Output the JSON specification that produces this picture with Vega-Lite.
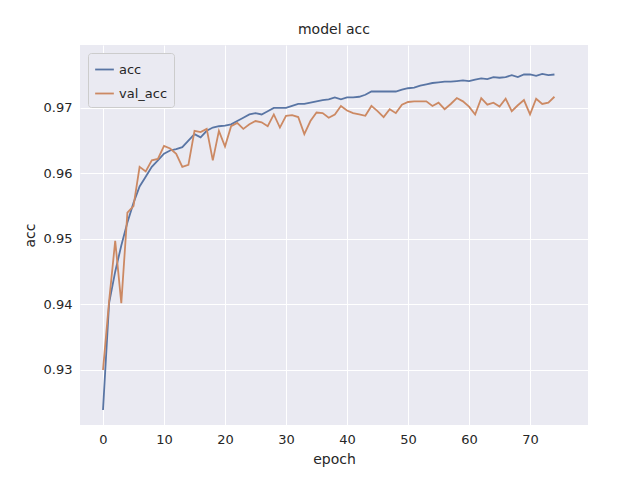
{
  "$schema": "https://vega.github.io/schema/vega-lite/v6.json",
  "width": 508,
  "height": 380,
  "autosize": {"type": "none"},
  "padding": {"left": 80, "top": 45, "right": 52, "bottom": 55},
  "background": "white",
  "title": {"text": "model acc", "font": "DejaVu Sans", "fontSize": 14, "fontWeight": "normal", "color": "#262626", "offset": 8},
  "data": {"values": [
    {"epoch":0,"acc":0.9239,"val_acc":0.930},{"epoch":1,"acc":0.9402,"val_acc":0.9405},{"epoch":2,"acc":0.945,"val_acc":0.9497},
    {"epoch":3,"acc":0.949,"val_acc":0.9402},{"epoch":4,"acc":0.9525,"val_acc":0.954},{"epoch":5,"acc":0.9555,"val_acc":0.955},
    {"epoch":6,"acc":0.958,"val_acc":0.961},{"epoch":7,"acc":0.9595,"val_acc":0.9603},{"epoch":8,"acc":0.961,"val_acc":0.962},
    {"epoch":9,"acc":0.962,"val_acc":0.9622},{"epoch":10,"acc":0.963,"val_acc":0.9642},{"epoch":11,"acc":0.9635,"val_acc":0.9638},
    {"epoch":12,"acc":0.9637,"val_acc":0.963},{"epoch":13,"acc":0.964,"val_acc":0.961},{"epoch":14,"acc":0.965,"val_acc":0.9613},
    {"epoch":15,"acc":0.966,"val_acc":0.9665},{"epoch":16,"acc":0.9655,"val_acc":0.9663},{"epoch":17,"acc":0.9665,"val_acc":0.9668},
    {"epoch":18,"acc":0.967,"val_acc":0.962},{"epoch":19,"acc":0.9672,"val_acc":0.9665},{"epoch":20,"acc":0.9673,"val_acc":0.9641},
    {"epoch":21,"acc":0.9675,"val_acc":0.9672},{"epoch":22,"acc":0.968,"val_acc":0.9677},{"epoch":23,"acc":0.9685,"val_acc":0.9668},
    {"epoch":24,"acc":0.969,"val_acc":0.9675},{"epoch":25,"acc":0.9692,"val_acc":0.968},{"epoch":26,"acc":0.969,"val_acc":0.9678},
    {"epoch":27,"acc":0.9695,"val_acc":0.9672},{"epoch":28,"acc":0.970,"val_acc":0.969},{"epoch":29,"acc":0.970,"val_acc":0.967},
    {"epoch":30,"acc":0.970,"val_acc":0.9688},{"epoch":31,"acc":0.9703,"val_acc":0.9689},{"epoch":32,"acc":0.9706,"val_acc":0.9686},
    {"epoch":33,"acc":0.9706,"val_acc":0.966},{"epoch":34,"acc":0.9708,"val_acc":0.968},{"epoch":35,"acc":0.971,"val_acc":0.9693},
    {"epoch":36,"acc":0.9712,"val_acc":0.9692},{"epoch":37,"acc":0.9713,"val_acc":0.9685},{"epoch":38,"acc":0.9716,"val_acc":0.969},
    {"epoch":39,"acc":0.9713,"val_acc":0.9703},{"epoch":40,"acc":0.9716,"val_acc":0.9696},{"epoch":41,"acc":0.9716,"val_acc":0.9692},
    {"epoch":42,"acc":0.9717,"val_acc":0.969},{"epoch":43,"acc":0.972,"val_acc":0.9688},{"epoch":44,"acc":0.9725,"val_acc":0.9703},
    {"epoch":45,"acc":0.9725,"val_acc":0.9695},{"epoch":46,"acc":0.9725,"val_acc":0.9686},{"epoch":47,"acc":0.9725,"val_acc":0.9698},
    {"epoch":48,"acc":0.9725,"val_acc":0.9692},{"epoch":49,"acc":0.9728,"val_acc":0.9705},{"epoch":50,"acc":0.973,"val_acc":0.9709},
    {"epoch":51,"acc":0.9731,"val_acc":0.971},{"epoch":52,"acc":0.9734,"val_acc":0.971},{"epoch":53,"acc":0.9736,"val_acc":0.971},
    {"epoch":54,"acc":0.9738,"val_acc":0.9703},{"epoch":55,"acc":0.9739,"val_acc":0.9708},{"epoch":56,"acc":0.974,"val_acc":0.9698},
    {"epoch":57,"acc":0.974,"val_acc":0.9706},{"epoch":58,"acc":0.9741,"val_acc":0.9715},{"epoch":59,"acc":0.9742,"val_acc":0.971},
    {"epoch":60,"acc":0.9741,"val_acc":0.9702},{"epoch":61,"acc":0.9743,"val_acc":0.969},{"epoch":62,"acc":0.9745,"val_acc":0.9715},
    {"epoch":63,"acc":0.9744,"val_acc":0.9705},{"epoch":64,"acc":0.9747,"val_acc":0.9708},{"epoch":65,"acc":0.9746,"val_acc":0.9702},
    {"epoch":66,"acc":0.9747,"val_acc":0.9714},{"epoch":67,"acc":0.975,"val_acc":0.9695},{"epoch":68,"acc":0.9747,"val_acc":0.9704},
    {"epoch":69,"acc":0.9751,"val_acc":0.9712},{"epoch":70,"acc":0.9751,"val_acc":0.969},{"epoch":71,"acc":0.9749,"val_acc":0.9714},
    {"epoch":72,"acc":0.9752,"val_acc":0.9706},{"epoch":73,"acc":0.975,"val_acc":0.9708},{"epoch":74,"acc":0.9751,"val_acc":0.9717}
  ]},
  "transform": [{"fold": ["acc", "val_acc"], "as": ["series", "value"]}],
  "mark": {"type": "line", "strokeWidth": 1.8, "clip": true},
  "encoding": {
    "x": {"field": "epoch", "type": "quantitative", "title": "epoch",
      "scale": {"domain": [-3.77, 79.5], "nice": false, "zero": false},
      "axis": {"values": [0, 10, 20, 30, 40, 50, 60, 70]}},
    "y": {"field": "value", "type": "quantitative", "title": "acc",
      "scale": {"domain": [0.9216, 0.9796], "nice": false, "zero": false},
      "axis": {"values": [0.93, 0.94, 0.95, 0.96, 0.97], "format": ".2f"}},
    "color": {"field": "series", "type": "nominal",
      "scale": {"domain": ["acc", "val_acc"], "range": ["#5975a4", "#cc8963"]},
      "legend": {"title": null, "orient": "top-left", "symbolType": "stroke", "symbolStrokeWidth": 1.8,
        "symbolSize": 350, "labelFontSize": 13, "labelFont": "DejaVu Sans", "labelColor": "#262626",
        "fillColor": "#eaeaf2", "strokeColor": "#cccccc", "padding": 6, "cornerRadius": 3, "offset": 8, "rowPadding": 6}}
  },
  "config": {
    "view": {"fill": "#eaeaf2", "stroke": null},
    "axis": {"grid": true, "gridColor": "white", "gridWidth": 1, "domain": false, "ticks": false,
      "labelFont": "DejaVu Sans", "labelFontSize": 13, "labelColor": "#262626", "labelPadding": 8,
      "titleFont": "DejaVu Sans", "titleFontSize": 14, "titleFontWeight": "normal", "titleColor": "#262626", "titlePadding": 6}
  }
}
